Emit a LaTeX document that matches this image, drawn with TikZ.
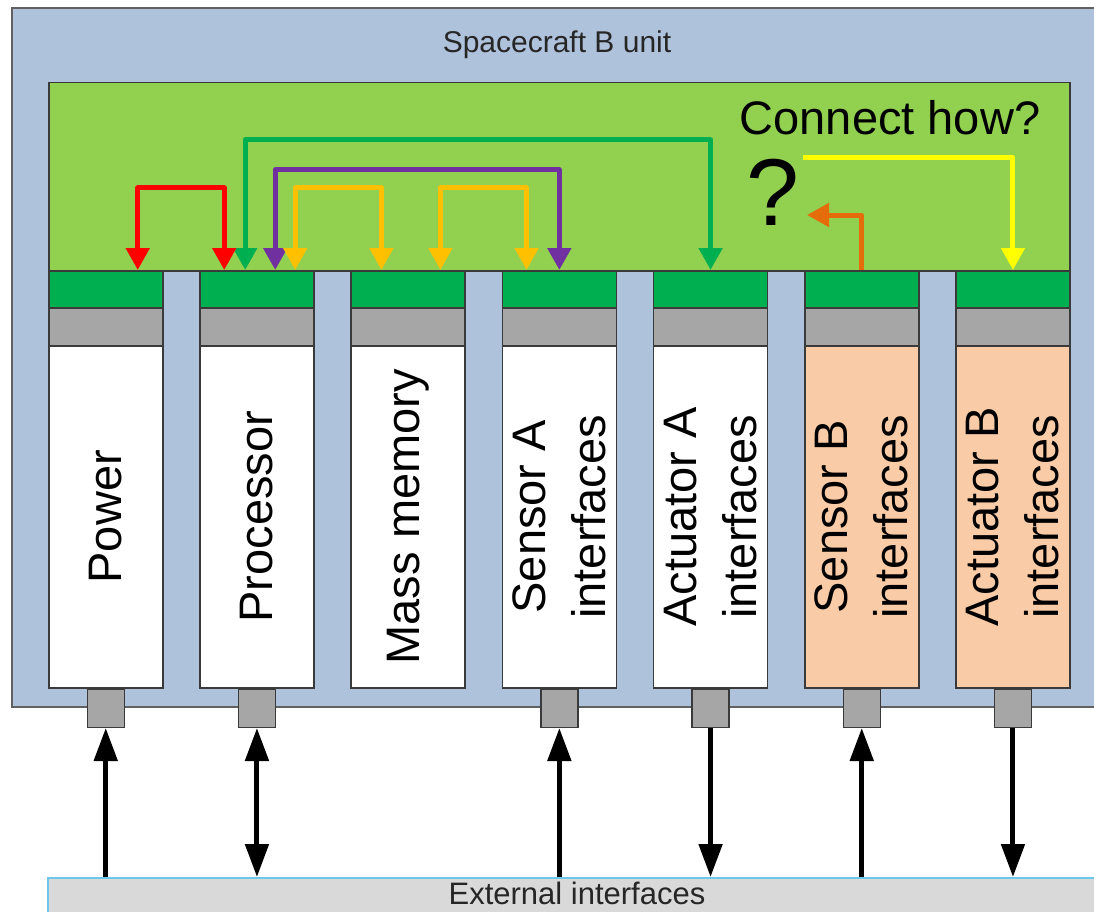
\documentclass[tikz,border=0pt]{standalone}
\usepackage{fontspec}
\setmainfont{Liberation Sans}
\usetikzlibrary{arrows.meta,calc}
\definecolor{bgblue}{HTML}{AFC2DB}
\definecolor{panelgreen}{HTML}{92D050}
\definecolor{dkgreen}{HTML}{00B050}
\definecolor{grayc}{HTML}{A6A6A6}
\definecolor{edgec}{HTML}{3A3A3A}
\definecolor{peach}{HTML}{F9CBA7}
\definecolor{cred}{HTML}{FF0000}
\definecolor{cgreen}{HTML}{00B050}
\definecolor{cpurple}{HTML}{7030A0}
\definecolor{camber}{HTML}{FFC000}
\definecolor{cyellow}{HTML}{FFFF00}
\definecolor{corange}{HTML}{E46C0A}
\definecolor{barfill}{HTML}{D9D9D9}
\definecolor{barline}{HTML}{6CC7EA}
\tikzset{
  part/.style={draw=edgec, line width=1.5pt, inner sep=0pt, anchor=north west, minimum width=114pt},
  conn/.style={draw=edgec, line width=1.5pt, fill=grayc, inner sep=0pt, anchor=north, minimum width=37pt, minimum height=38pt},
  lbl/.style={rotate=90, align=center, font=\fontsize{47}{60}\selectfont},
  ctip/.tip={Triangle[length=22pt,width=23pt]},
  btip/.tip={Triangle[length=33pt,width=23pt]},
  carrow/.style={line width=5pt, line join=round, {ctip}-{ctip}},
  blk/.style={line width=5pt, black}
}
\begin{document}
\begin{tikzpicture}[x=1pt,y=-1pt]
\useasboundingbox (0,0) rectangle (1094,912);
% outer unit
\node[draw=edgec!80, line width=2pt, fill=bgblue, anchor=north west, minimum width=1120pt, minimum height=699pt, inner sep=0pt] (unit) at (11,7) {};
\node[text=black!85, font=\fontsize{30}{36}\selectfont] (title) at (557,45) {Spacecraft B unit};
% green panel
\node[draw=edgec, line width=1.5pt, fill=panelgreen, anchor=north west, minimum width=1021pt, minimum height=188pt, inner sep=0pt] (panel) at (48,82) {};
% modules
\foreach \i/\fc in {1/white,2/white,3/white,4/white,5/white,6/peach,7/peach} {
  \pgfmathsetmacro{\xl}{48+151.2*(\i-1)}
  \node[part, fill=dkgreen, minimum height=37pt] (st\i) at (\xl,270) {};
  \node[part, fill=grayc, minimum height=38pt] (gr\i) at (\xl,307) {};
  \node[part, fill=\fc, minimum height=342pt] (bd\i) at (\xl,345) {};
}
\node[lbl] (l1) at (bd1.center) {Power};
\node[lbl] (l2) at (bd2.center) {Processor};
\node[lbl] (l3) at (bd3.center) {Mass memory};
\node[lbl] (l4) at (bd4.center) {Sensor A\\interfaces};
\node[lbl] (l5) at (bd5.center) {Actuator A\\interfaces};
\node[lbl] (l6) at (bd6.center) {Sensor B\\interfaces};
\node[lbl] (l7) at (bd7.center) {Actuator B\\interfaces};
% connectors
\foreach \i in {1,2,4,5,6,7} {
  \node[conn] (cn\i) at (bd\i.south) {};
}
% external interfaces bar
\node[draw=barline, line width=1.5pt, fill=barfill, anchor=north west, minimum width=1070pt, minimum height=50pt, inner sep=0pt] (ext) at (47,877) {};
\node[text=black!85, font=\fontsize{31}{36}\selectfont] (extl) at (577,893) {External interfaces};
% bottom arrows
\draw[blk, -{btip}] (ext.north -| cn1) -- (cn1.south);
\draw[blk, {btip}-{btip}] (ext.north -| cn2) -- (cn2.south);
\draw[blk, -{btip}] (ext.north -| cn4) -- (cn4.south);
\draw[blk, -{btip}] (cn5.south) -- (ext.north -| cn5);
\draw[blk, -{btip}] (ext.north -| cn6) -- (cn6.south);
\draw[blk, -{btip}] (cn7.south) -- (ext.north -| cn7);
% top arrows
\draw[carrow, cgreen] ([xshift=46pt]st2.north west) -- ++(0,-130) -| (st5.north);
\draw[carrow, cpurple] ([xshift=76pt]st2.north west) -- ++(0,-100) -| (st4.north);
\draw[carrow, cred] ([xshift=32pt]st1.north) -- ++(0,-82) -| ([xshift=25pt]st2.north west);
\draw[carrow, camber] ([xshift=96pt]st2.north west) -- ++(0,-82) -| ([xshift=31pt]st3.north west);
\draw[carrow, camber] ([xshift=90pt]st3.north west) -- ++(0,-82) -| ([xshift=25pt]st4.north west);
% connect how
\node[font=\fontsize{47}{56}\selectfont] (ch) at (890,118) {Connect how?};
\node[font=\fontsize{95}{100}\selectfont] (q) at (773,192) {?};
\coordinate (ys) at (803,158);
\coordinate (os) at (807,215);
\draw[line width=5pt, line join=round, cyellow, -{ctip}] (ys) -| (st7.north);
\draw[line width=5pt, line join=round, corange, -{ctip}] (st6.north) |- (os);
\end{tikzpicture}
\end{document}
